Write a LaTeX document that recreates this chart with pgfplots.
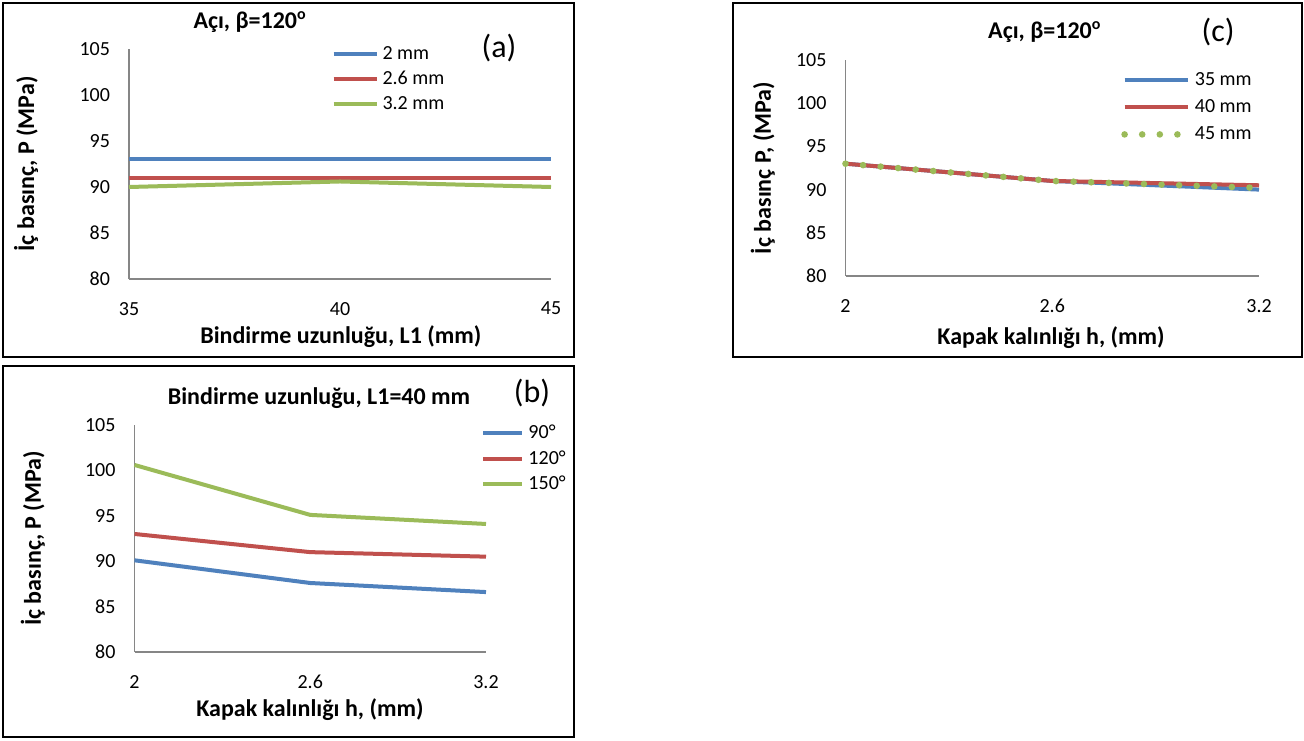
\documentclass[border=0pt]{standalone}
\usepackage{fontspec}
\setmainfont{Carlito}
\usepackage{pgfplots}
\pgfplotsset{compat=1.18}

\definecolor{xlblue}{HTML}{4F81BD}
\definecolor{xlred}{HTML}{C0504D}
\definecolor{xlgreen}{HTML}{9BBB59}
\definecolor{axgray}{HTML}{868686}

\pgfplotsset{
  xlstyle/.style={
    scale only axis,
    anchor=south west,
    axis lines=left,
    axis line style={draw=axgray, line width=0.7pt, -},
    major tick length=0pt,
    ymin=80, ymax=105, ytick={80,85,90,95,100,105},
    tick label style={font=\fontsize{10}{12}\selectfont, /pgf/number format/assume math mode=true},
    xticklabel style={yshift=-8pt},
    yticklabel style={xshift=-6pt},
    label style={font=\bfseries\fontsize{12}{14}\selectfont},
    every axis title/.style={font=\bfseries\fontsize{12}{14}\selectfont, anchor=center},
    legend style={draw=none, fill=none, font=\fontsize{10}{12}\selectfont,
      inner sep=0pt, anchor=north west, column sep=2pt,
      nodes={inner sep=0pt, text height=7pt, text depth=2pt}},
    legend cell align=left,
    every axis plot/.append style={line width=2pt},
    clip=false,
  }
}

\begin{document}
\begin{tikzpicture}
\path[use as bounding box] (0pt,0pt) rectangle (652pt,370pt);
\fill[white] (0pt,0pt) rectangle (652pt,370pt);
\draw[line width=1pt] (1.5pt,191.5pt) rectangle (287pt,368.5pt);
\draw[line width=1pt] (1.5pt,1.5pt) rectangle (287pt,187pt);
\draw[line width=1pt] (366.5pt,191.5pt) rectangle (651pt,368.5pt);

% ---------------- (a)
\begin{axis}[xlstyle,
  at={(64.5pt,230.5pt)}, width=211pt, height=115pt,
  xmin=35, xmax=45, xtick={35,40,45},
  title={Açı, β=120\textsuperscript{o}},
  title style={at={(axis description cs:0.287,1.117)}},
  xlabel={Bindirme uzunluğu, L1 (mm)},
  xlabel style={at={(axis description cs:0.502,-0.252)}, anchor=center},
  ylabel={İç basınç, P (MPa)},
  ylabel style={at={(axis description cs:-0.244,0.5)}, anchor=center},
  legend style={at={(axis description cs:0.479,1.017)}, row sep=3.5pt},
  legend image code/.code={\draw[#1] (0pt,0pt) -- (21.5pt,0pt);},
]
\addplot[xlblue] coordinates {(35,93) (40,93) (45,93)};
\addlegendentry{2 mm}
\addplot[xlred] coordinates {(35,91) (40,91) (45,91)};
\addlegendentry{2.6 mm}
\addplot[xlgreen] coordinates {(35,90) (40,90.6) (45,90)};
\addlegendentry{3.2 mm}
\end{axis}
\node[font=\fontsize{16}{18}\selectfont] at (249.5pt,346pt) {(a)};

% ---------------- (b)
\begin{axis}[xlstyle,
  at={(67.25pt,44pt)}, width=175.75pt, height=113.5pt,
  xmin=2, xmax=3.2, xtick={2,2.6,3.2},
  title={Bindirme uzunluğu, L1=40 mm},
  title style={at={(axis description cs:0.525,1.119)}},
  xlabel={Kapak kalınlığı h, (mm)},
  xlabel style={at={(axis description cs:0.499,-0.256)}, anchor=center},
  ylabel={İç basınç, P (MPa)},
  ylabel style={at={(axis description cs:-0.289,0.5)}, anchor=center},
  legend style={at={(axis description cs:0.986,1.004)}, row sep=3.75pt},
  legend image code/.code={\draw[#1] (0pt,0pt) -- (19.5pt,0pt);},
]
\addplot[xlblue] coordinates {(2,90.1) (2.6,87.6) (3.2,86.6)};
\addlegendentry{90°}
\addplot[xlred] coordinates {(2,93) (2.6,91) (3.2,90.5)};
\addlegendentry{120°}
\addplot[xlgreen] coordinates {(2,100.6) (2.6,95.1) (3.2,94.1)};
\addlegendentry{150°}
\end{axis}
\node[font=\fontsize{16}{18}\selectfont] at (266pt,173.5pt) {(b)};

% ---------------- (c)
\begin{axis}[xlstyle,
  at={(422.75pt,232pt)}, width=206.75pt, height=108pt,
  xmin=2, xmax=3.2, xtick={2,2.6,3.2},
  title={Açı, β=120\textsuperscript{o}},
  title style={at={(axis description cs:0.482,1.13)}},
  xlabel={Kapak kalınlığı h, (mm)},
  xlabel style={at={(axis description cs:0.497,-0.287)}, anchor=center},
  ylabel={İç basınç P, (MPa)},
  ylabel style={at={(axis description cs:-0.2,0.5)}, anchor=center},
  legend style={at={(axis description cs:0.666,0.949)}, row sep=4.5pt},
  legend image code/.code={\draw[#1] (0pt,0pt) -- (31.5pt,0pt);},
]
\addplot[xlblue] coordinates {(2,93) (2.6,91) (3.2,90)};
\addlegendentry{35 mm}
\addplot[xlred] coordinates {(2,93) (2.6,91) (3.2,90.5)};
\addlegendentry{40 mm}
\addplot[xlgreen, line width=3.3pt, line cap=round, dash pattern=on 0pt off 8.8pt] coordinates {(2,93) (2.6,91) (3.2,90.2)};
\addlegendentry{45 mm}
\end{axis}
\node[font=\fontsize{16}{18}\selectfont] at (609pt,354pt) {(c)};
\end{tikzpicture}
\end{document}
